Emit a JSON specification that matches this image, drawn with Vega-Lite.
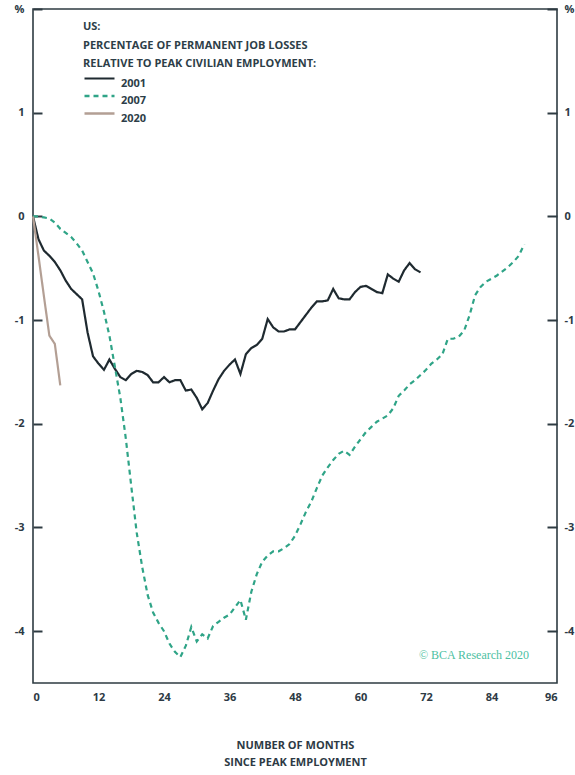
{
  "$schema": "https://vega.github.io/schema/vega-lite/v6.json",
  "width": 524,
  "height": 674,
  "autosize": "none",
  "padding": {"left": 33, "top": 9, "right": 18, "bottom": 92},
  "background": "white",
  "config": {
    "view": {"stroke": "#2e3b42", "strokeWidth": 1.6},
    "axis": {
      "labelFont": "Open Sans",
      "labelFontWeight": "bold",
      "labelFontSize": 11,
      "labelColor": "#2d3a45",
      "titleFont": "Open Sans",
      "titleFontWeight": "bold",
      "titleFontSize": 11,
      "titleColor": "#2d3a45",
      "grid": false,
      "domain": false
    },
    "legend": {
      "titleFont": "Open Sans",
      "labelFont": "Open Sans"
    }
  },
  "datasets": {
    "lines": [
      {"month": 0, "value": 0, "series": "2001"},
      {"month": 1, "value": -0.22, "series": "2001"},
      {"month": 2, "value": -0.33, "series": "2001"},
      {"month": 3, "value": -0.38, "series": "2001"},
      {"month": 4, "value": -0.44, "series": "2001"},
      {"month": 5, "value": -0.52, "series": "2001"},
      {"month": 6, "value": -0.62, "series": "2001"},
      {"month": 7, "value": -0.70, "series": "2001"},
      {"month": 8, "value": -0.75, "series": "2001"},
      {"month": 9, "value": -0.80, "series": "2001"},
      {"month": 10, "value": -1.12, "series": "2001"},
      {"month": 11, "value": -1.35, "series": "2001"},
      {"month": 12, "value": -1.42, "series": "2001"},
      {"month": 13, "value": -1.48, "series": "2001"},
      {"month": 14, "value": -1.38, "series": "2001"},
      {"month": 15, "value": -1.47, "series": "2001"},
      {"month": 16, "value": -1.55, "series": "2001"},
      {"month": 17, "value": -1.58, "series": "2001"},
      {"month": 18, "value": -1.52, "series": "2001"},
      {"month": 19, "value": -1.49, "series": "2001"},
      {"month": 20, "value": -1.50, "series": "2001"},
      {"month": 21, "value": -1.53, "series": "2001"},
      {"month": 22, "value": -1.60, "series": "2001"},
      {"month": 23, "value": -1.60, "series": "2001"},
      {"month": 24, "value": -1.55, "series": "2001"},
      {"month": 25, "value": -1.60, "series": "2001"},
      {"month": 26, "value": -1.58, "series": "2001"},
      {"month": 27, "value": -1.58, "series": "2001"},
      {"month": 28, "value": -1.68, "series": "2001"},
      {"month": 29, "value": -1.67, "series": "2001"},
      {"month": 30, "value": -1.75, "series": "2001"},
      {"month": 31, "value": -1.86, "series": "2001"},
      {"month": 32, "value": -1.80, "series": "2001"},
      {"month": 33, "value": -1.68, "series": "2001"},
      {"month": 34, "value": -1.57, "series": "2001"},
      {"month": 35, "value": -1.49, "series": "2001"},
      {"month": 36, "value": -1.43, "series": "2001"},
      {"month": 37, "value": -1.38, "series": "2001"},
      {"month": 38, "value": -1.52, "series": "2001"},
      {"month": 39, "value": -1.33, "series": "2001"},
      {"month": 40, "value": -1.27, "series": "2001"},
      {"month": 41, "value": -1.24, "series": "2001"},
      {"month": 42, "value": -1.18, "series": "2001"},
      {"month": 43, "value": -0.99, "series": "2001"},
      {"month": 44, "value": -1.07, "series": "2001"},
      {"month": 45, "value": -1.11, "series": "2001"},
      {"month": 46, "value": -1.11, "series": "2001"},
      {"month": 47, "value": -1.09, "series": "2001"},
      {"month": 48, "value": -1.09, "series": "2001"},
      {"month": 49, "value": -1.02, "series": "2001"},
      {"month": 50, "value": -0.95, "series": "2001"},
      {"month": 51, "value": -0.88, "series": "2001"},
      {"month": 52, "value": -0.82, "series": "2001"},
      {"month": 53, "value": -0.82, "series": "2001"},
      {"month": 54, "value": -0.81, "series": "2001"},
      {"month": 55, "value": -0.70, "series": "2001"},
      {"month": 56, "value": -0.79, "series": "2001"},
      {"month": 57, "value": -0.80, "series": "2001"},
      {"month": 58, "value": -0.80, "series": "2001"},
      {"month": 59, "value": -0.73, "series": "2001"},
      {"month": 60, "value": -0.68, "series": "2001"},
      {"month": 61, "value": -0.67, "series": "2001"},
      {"month": 62, "value": -0.70, "series": "2001"},
      {"month": 63, "value": -0.73, "series": "2001"},
      {"month": 64, "value": -0.74, "series": "2001"},
      {"month": 65, "value": -0.56, "series": "2001"},
      {"month": 66, "value": -0.60, "series": "2001"},
      {"month": 67, "value": -0.63, "series": "2001"},
      {"month": 68, "value": -0.52, "series": "2001"},
      {"month": 69, "value": -0.45, "series": "2001"},
      {"month": 70, "value": -0.51, "series": "2001"},
      {"month": 71, "value": -0.54, "series": "2001"},
      {"month": 0, "value": 0, "series": "2007"},
      {"month": 1, "value": 0.0, "series": "2007"},
      {"month": 2, "value": -0.01, "series": "2007"},
      {"month": 3, "value": -0.02, "series": "2007"},
      {"month": 4, "value": -0.06, "series": "2007"},
      {"month": 5, "value": -0.12, "series": "2007"},
      {"month": 6, "value": -0.16, "series": "2007"},
      {"month": 7, "value": -0.20, "series": "2007"},
      {"month": 8, "value": -0.26, "series": "2007"},
      {"month": 9, "value": -0.33, "series": "2007"},
      {"month": 10, "value": -0.44, "series": "2007"},
      {"month": 11, "value": -0.55, "series": "2007"},
      {"month": 12, "value": -0.72, "series": "2007"},
      {"month": 13, "value": -0.92, "series": "2007"},
      {"month": 14, "value": -1.15, "series": "2007"},
      {"month": 15, "value": -1.45, "series": "2007"},
      {"month": 16, "value": -1.75, "series": "2007"},
      {"month": 17, "value": -2.14, "series": "2007"},
      {"month": 18, "value": -2.60, "series": "2007"},
      {"month": 19, "value": -3.05, "series": "2007"},
      {"month": 20, "value": -3.38, "series": "2007"},
      {"month": 21, "value": -3.65, "series": "2007"},
      {"month": 22, "value": -3.82, "series": "2007"},
      {"month": 23, "value": -3.92, "series": "2007"},
      {"month": 24, "value": -4.00, "series": "2007"},
      {"month": 25, "value": -4.12, "series": "2007"},
      {"month": 26, "value": -4.20, "series": "2007"},
      {"month": 27, "value": -4.25, "series": "2007"},
      {"month": 28, "value": -4.14, "series": "2007"},
      {"month": 29, "value": -3.96, "series": "2007"},
      {"month": 30, "value": -4.10, "series": "2007"},
      {"month": 31, "value": -4.03, "series": "2007"},
      {"month": 32, "value": -4.07, "series": "2007"},
      {"month": 33, "value": -3.95, "series": "2007"},
      {"month": 34, "value": -3.91, "series": "2007"},
      {"month": 35, "value": -3.87, "series": "2007"},
      {"month": 36, "value": -3.84, "series": "2007"},
      {"month": 37, "value": -3.77, "series": "2007"},
      {"month": 38, "value": -3.70, "series": "2007"},
      {"month": 39, "value": -3.89, "series": "2007"},
      {"month": 40, "value": -3.62, "series": "2007"},
      {"month": 41, "value": -3.45, "series": "2007"},
      {"month": 42, "value": -3.33, "series": "2007"},
      {"month": 43, "value": -3.27, "series": "2007"},
      {"month": 44, "value": -3.23, "series": "2007"},
      {"month": 45, "value": -3.23, "series": "2007"},
      {"month": 46, "value": -3.20, "series": "2007"},
      {"month": 47, "value": -3.16, "series": "2007"},
      {"month": 48, "value": -3.08, "series": "2007"},
      {"month": 49, "value": -2.97, "series": "2007"},
      {"month": 50, "value": -2.85, "series": "2007"},
      {"month": 51, "value": -2.75, "series": "2007"},
      {"month": 52, "value": -2.62, "series": "2007"},
      {"month": 53, "value": -2.50, "series": "2007"},
      {"month": 54, "value": -2.42, "series": "2007"},
      {"month": 55, "value": -2.35, "series": "2007"},
      {"month": 56, "value": -2.29, "series": "2007"},
      {"month": 57, "value": -2.26, "series": "2007"},
      {"month": 58, "value": -2.30, "series": "2007"},
      {"month": 59, "value": -2.22, "series": "2007"},
      {"month": 60, "value": -2.15, "series": "2007"},
      {"month": 61, "value": -2.08, "series": "2007"},
      {"month": 62, "value": -2.03, "series": "2007"},
      {"month": 63, "value": -1.98, "series": "2007"},
      {"month": 64, "value": -1.95, "series": "2007"},
      {"month": 65, "value": -1.92, "series": "2007"},
      {"month": 66, "value": -1.85, "series": "2007"},
      {"month": 67, "value": -1.73, "series": "2007"},
      {"month": 68, "value": -1.68, "series": "2007"},
      {"month": 69, "value": -1.62, "series": "2007"},
      {"month": 70, "value": -1.58, "series": "2007"},
      {"month": 71, "value": -1.53, "series": "2007"},
      {"month": 72, "value": -1.48, "series": "2007"},
      {"month": 73, "value": -1.42, "series": "2007"},
      {"month": 74, "value": -1.38, "series": "2007"},
      {"month": 75, "value": -1.33, "series": "2007"},
      {"month": 76, "value": -1.18, "series": "2007"},
      {"month": 77, "value": -1.18, "series": "2007"},
      {"month": 78, "value": -1.16, "series": "2007"},
      {"month": 79, "value": -1.10, "series": "2007"},
      {"month": 80, "value": -0.95, "series": "2007"},
      {"month": 81, "value": -0.76, "series": "2007"},
      {"month": 82, "value": -0.68, "series": "2007"},
      {"month": 83, "value": -0.63, "series": "2007"},
      {"month": 84, "value": -0.60, "series": "2007"},
      {"month": 85, "value": -0.57, "series": "2007"},
      {"month": 86, "value": -0.53, "series": "2007"},
      {"month": 87, "value": -0.49, "series": "2007"},
      {"month": 88, "value": -0.44, "series": "2007"},
      {"month": 89, "value": -0.38, "series": "2007"},
      {"month": 90, "value": -0.27, "series": "2007"},
      {"month": 0, "value": 0, "series": "2020"},
      {"month": 1, "value": -0.38, "series": "2020"},
      {"month": 2, "value": -0.77, "series": "2020"},
      {"month": 3, "value": -1.15, "series": "2020"},
      {"month": 4, "value": -1.23, "series": "2020"},
      {"month": 5, "value": -1.63, "series": "2020"}
    ],
    "note": [
      {"month": 80.8, "value": -4.23, "label": "© BCA Research 2020"}
    ]
  },
  "layer": [
    {
      "data": {"name": "lines"},
      "mark": {"type": "line", "strokeWidth": 2.2},
      "encoding": {
        "x": {
          "field": "month",
          "type": "quantitative",
          "scale": {"domain": [0, 96], "nice": false, "zero": false},
          "axis": {
            "values": [0, 12, 24, 36, 48, 60, 72, 84, 96],
            "ticks": false,
            "labelPadding": 8,
            "labelDx": 3,
            "title": ["NUMBER OF MONTHS", "SINCE PEAK EMPLOYMENT"],
            "titlePadding": 37,
            "titleLineHeight": 17
          }
        },
        "y": {
          "field": "value",
          "type": "quantitative",
          "scale": {"domain": [-4.5, 2], "nice": false, "zero": false},
          "axis": {
            "orient": "left",
            "values": [-4, -3, -2, -1, 0, 1, 2],
            "labelExpr": "datum.value == 2 ? '%' : toString(datum.value)",
            "tickSize": -9,
            "tickWidth": 2,
            "tickColor": "#2e3b42",
            "labelPadding": 18,
            "title": null
          }
        },
        "color": {
          "field": "series",
          "type": "nominal",
          "scale": {"domain": ["2001", "2007", "2020"], "range": ["#1f2a30", "#2fa487", "#b39f94"]},
          "legend": {
            "orient": "none",
            "legendX": 50,
            "legendY": 12,
            "title": ["US:", "PERCENTAGE OF PERMANENT JOB LOSSES", "RELATIVE TO PEAK CIVILIAN EMPLOYMENT:"],
            "titleFontSize": 11,
            "titleFontWeight": "bold",
            "titleColor": "#2d3e48",
            "titleLineHeight": 18.5,
            "titlePadding": 8,
            "titleLimit": 500,
            "labelFontSize": 11,
            "labelFontWeight": "bold",
            "labelColor": "#2d3e48",
            "labelOffset": 25,
            "symbolType": "M-1,-1H5",
            "symbolSize": 100,
            "symbolStrokeWidth": 2,
            "rowPadding": 1.5
          }
        },
        "strokeDash": {
          "field": "series",
          "type": "nominal",
          "scale": {"domain": ["2001", "2007", "2020"], "range": [[1, 0], [5, 4], [1, 0]]},
          "legend": {
            "orient": "none",
            "legendX": 50,
            "legendY": 12,
            "title": ["US:", "PERCENTAGE OF PERMANENT JOB LOSSES", "RELATIVE TO PEAK CIVILIAN EMPLOYMENT:"],
            "titleFontSize": 11,
            "titleFontWeight": "bold",
            "titleColor": "#2d3e48",
            "titleLineHeight": 18.5,
            "titlePadding": 8,
            "titleLimit": 500,
            "labelFontSize": 11,
            "labelFontWeight": "bold",
            "labelColor": "#2d3e48",
            "labelOffset": 25,
            "symbolType": "M-1,-1H5",
            "symbolSize": 100,
            "symbolStrokeWidth": 2,
            "rowPadding": 1.5
          }
        },
        "strokeWidth": {
          "field": "series",
          "type": "nominal",
          "scale": {"domain": ["2001", "2007", "2020"], "range": [2.2, 2.6, 1.8]},
          "legend": null
        }
      }
    },
    {
      "mark": {"type": "rule", "stroke": "#2e3b42", "strokeWidth": 1.8},
      "encoding": {
        "y": {"datum": 0, "type": "quantitative", "axis": null}
      }
    },
    {
      "data": {"name": "note"},
      "mark": {"type": "text", "font": "Liberation Serif", "fontSize": 12, "color": "#4dbfa2"},
      "encoding": {
        "x": {"field": "month", "type": "quantitative", "axis": null},
        "y": {
          "field": "value",
          "type": "quantitative",
          "axis": {
            "orient": "right",
            "values": [-4, -3, -2, -1, 0, 1, 2],
            "labelExpr": "datum.value == 2 ? '%' : toString(datum.value)",
            "tickSize": -10,
            "tickWidth": 2,
            "tickColor": "#2e3b42",
            "labelPadding": 17,
            "title": null
          }
        },
        "text": {"field": "label"}
      }
    }
  ],
  "resolve": {"axis": {"y": "independent", "x": "independent"}}
}
